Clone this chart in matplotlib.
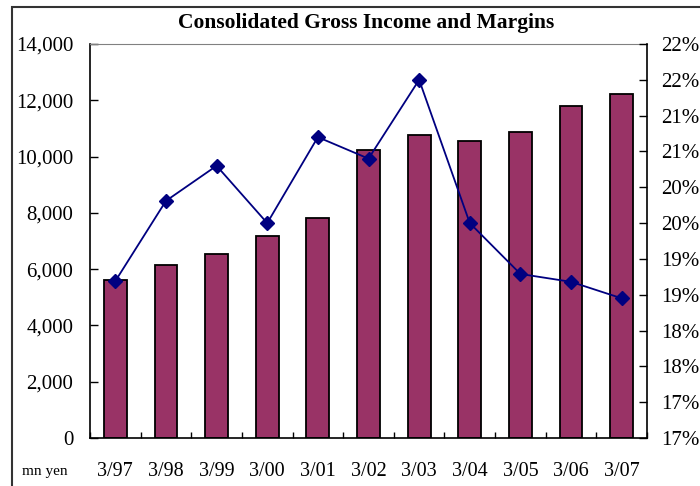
import matplotlib.pyplot as plt
from matplotlib.patches import Rectangle
from matplotlib.ticker import FuncFormatter
import numpy as np

periods = ['3/97', '3/98', '3/99', '3/00', '3/01', '3/02', '3/03', '3/04', '3/05', '3/06', '3/07']
gross_income = [5610, 6150, 6540, 7180, 7830, 10240, 10770, 10560, 10880, 11800, 12230]
margin_pct = [18.69, 19.81, 20.30, 19.50, 20.70, 20.40, 21.50, 19.50, 18.79, 18.68, 18.45]

plt.rcParams['font.family'] = ['Liberation Serif', 'DejaVu Serif']

fig = plt.figure(figsize=(7, 4.86), dpi=100)
ax = fig.add_axes([90 / 700, 1 - 438 / 486, 557 / 700, 394 / 486])

x = np.arange(len(periods))
ax.bar(x, gross_income, width=0.45, color='#993366', edgecolor='black', linewidth=1.3, zorder=2)
ax.set_xlim(-0.5, len(periods) - 0.5)
ax.set_ylim(0, 14000)
ax.set_yticks(np.arange(0, 14001, 2000))
ax.yaxis.set_major_formatter(FuncFormatter(lambda v, p: f'{v:,.0f}'))
ax.set_xticks(x)
ax.set_xticklabels(periods)
ax.set_xticks(np.arange(-0.5, len(periods)), minor=True)
ax.tick_params(axis='x', which='major', length=0, pad=17, labelsize=14.5)
ax.tick_params(axis='x', which='minor', direction='in', length=4, width=1)
ax.tick_params(axis='y', direction='in', length=6, width=1, pad=12, labelsize=15)

for s in ['left', 'bottom']:
    ax.spines[s].set_linewidth(1.2)
ax.spines['top'].set_color('#808080')
ax.spines['right'].set_visible(False)

ax2 = ax.twinx()
ax2.plot(x, margin_pct, color='#000080', linewidth=1.3, marker='D', markersize=7, zorder=3)
ax2.set_ylim(16.5, 22.0)
ax2.set_yticks(np.arange(16.5, 22.01, 0.5))
ax2.yaxis.set_major_formatter(FuncFormatter(lambda v, p: f'{int(np.floor(v + 0.5))}%'))
ax2.tick_params(axis='y', direction='in', length=6, width=1, pad=10, labelsize=15)
ax2.spines['right'].set_linewidth(1.2)
ax2.spines['top'].set_visible(False)
ax2.spines['left'].set_visible(False)
ax2.spines['bottom'].set_visible(False)

fig.text(366 / 700, 1 - 23 / 486, 'Consolidated Gross Income and Margins',
         ha='center', va='center', fontsize=15.5, fontweight='bold')
fig.text(22 / 700, 1 - 471 / 486, 'mn yen', ha='left', va='center', fontsize=11)

fig.patches.append(Rectangle((12 / 700, -0.1), 1.2, 1.1 - 7 / 486, transform=fig.transFigure,
                             fill=False, edgecolor='#333333', linewidth=1.5))

fig.savefig('out.png', dpi=100)
